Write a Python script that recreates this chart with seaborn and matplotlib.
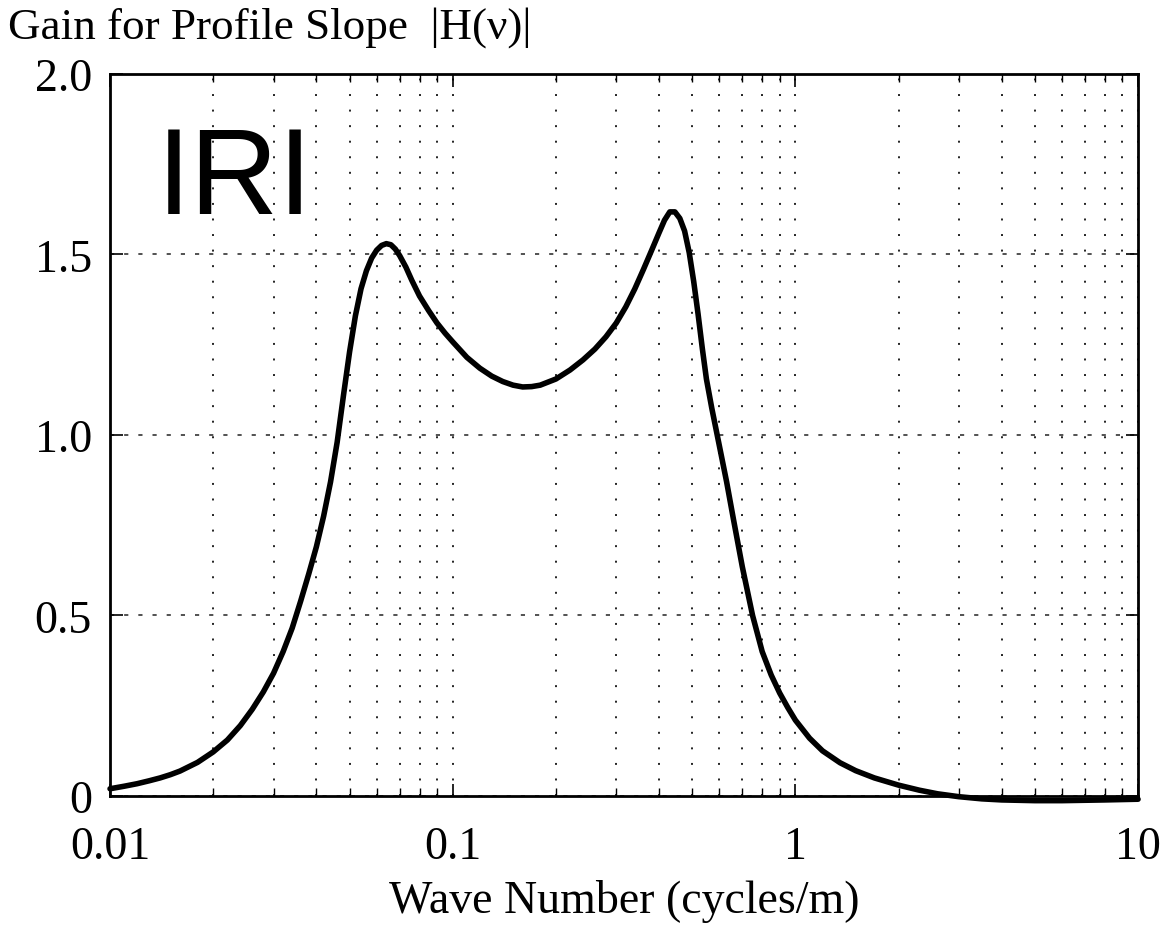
import matplotlib
matplotlib.use("Agg")
import matplotlib.pyplot as plt
from matplotlib.ticker import LogLocator, FixedLocator, NullFormatter
import seaborn as sns
import pandas as pd

# IRI quarter-car gain for profile slope versus wave number
wave_number = [0.010, 0.011, 0.012, 0.013, 0.014, 0.015, 0.016, 0.018, 0.020,
               0.022, 0.024, 0.026, 0.028, 0.030, 0.032, 0.034, 0.036, 0.038,
               0.040, 0.042, 0.044, 0.046, 0.048, 0.050, 0.052, 0.054, 0.056,
               0.058, 0.060, 0.062, 0.064, 0.066, 0.068, 0.070, 0.073, 0.076,
               0.080, 0.085, 0.090, 0.095, 0.100, 0.110, 0.120, 0.130, 0.140,
               0.150, 0.160, 0.170, 0.180, 0.200, 0.220, 0.240, 0.260, 0.280,
               0.300, 0.320, 0.340, 0.360, 0.380, 0.400, 0.415, 0.430, 0.445,
               0.460, 0.475, 0.490, 0.505, 0.520, 0.535, 0.550, 0.570, 0.600,
               0.630, 0.660, 0.700, 0.750, 0.800, 0.850, 0.900, 0.950, 1.000,
               1.100, 1.200, 1.350, 1.500, 1.700, 2.000, 2.300, 2.600, 3.000,
               3.500, 4.000, 5.000, 6.000, 8.000, 10.00]
gain = [0.020, 0.027, 0.034, 0.042, 0.050, 0.059, 0.069, 0.093, 0.122,
        0.155, 0.195, 0.240, 0.288, 0.340, 0.400, 0.465, 0.540, 0.615,
        0.690, 0.775, 0.870, 0.980, 1.110, 1.230, 1.330, 1.405, 1.455,
        1.490, 1.512, 1.525, 1.530, 1.527, 1.515, 1.497, 1.465, 1.428,
        1.385, 1.345, 1.310, 1.282, 1.258, 1.215, 1.185, 1.163, 1.148,
        1.138, 1.133, 1.134, 1.138, 1.155, 1.180, 1.208, 1.238, 1.272,
        1.310, 1.355, 1.405, 1.458, 1.510, 1.560, 1.595, 1.618, 1.618,
        1.600, 1.565, 1.505, 1.425, 1.335, 1.240, 1.155, 1.075, 0.970,
        0.870, 0.765, 0.635, 0.500, 0.400, 0.335, 0.285, 0.245, 0.210,
        0.160, 0.125, 0.092, 0.070, 0.050, 0.030, 0.016, 0.006, -0.002,
        -0.008, -0.011, -0.013, -0.013, -0.011, -0.009]

x_ticks = [0.01, 0.1, 1, 10]
x_tick_labels = ["0.01", "0.1", "1", "10"]
y_ticks = [0, 0.5, 1.0, 1.5, 2.0]
y_tick_labels = ["0", "0.5", "1.0", "1.5", "2.0"]

df = pd.DataFrame({"wave_number": wave_number, "gain": gain})

sns.set_style("ticks")
plt.rcParams["font.family"] = ["Liberation Serif", "DejaVu Serif"]
plt.rcParams["text.color"] = "black"

fig = plt.figure(figsize=(11.67, 9.28), dpi=100)
ax = fig.add_axes([0.0943, 0.1412, 0.8809, 0.7780])

sns.lineplot(data=df, x="wave_number", y="gain", color="black", lw=4.0,
             estimator=None, sort=False, ax=ax, zorder=5, clip_on=False)

ax.set_xscale("log")
ax.set_xlim(0.01, 10)
ax.set_ylim(0, 2.0)

ax.xaxis.set_major_locator(FixedLocator(x_ticks))
ax.set_xticklabels(x_tick_labels)
ax.xaxis.set_minor_locator(LogLocator(base=10, subs=range(2, 10)))
ax.xaxis.set_minor_formatter(NullFormatter())
ax.set_yticks(y_ticks)
ax.set_yticklabels(y_tick_labels)

ax.grid(True, which="both", axis="x", color="#222222", lw=1.4,
        linestyle=(0, (1, 7)))
ax.grid(True, which="major", axis="y", color="#333333", lw=1.2,
        linestyle=(0, (2.5, 6)))

ax.tick_params(axis="both", which="both", direction="in", top=True,
               right=True, colors="black", labelsize=33)
ax.tick_params(axis="x", which="major", length=9, width=1.2, pad=21)
ax.tick_params(axis="y", which="major", length=9, width=1.2, pad=13)
ax.tick_params(axis="x", which="minor", length=6, width=1.0)

for side in ax.spines.values():
    side.set_color("black")
    side.set_linewidth(2.0)

ax.set_xlabel("Wave Number (cycles/m)", fontsize=33, labelpad=8,
              color="black")
ax.set_ylabel("")

fig.text(0.007, 0.970, "Gain for Profile Slope  |H(ν)|", fontsize=32.5,
         ha="left", va="center", color="black")
ax.text(0.045, 0.808, "IRI", transform=ax.transAxes, fontsize=88,
        family="Liberation Sans", color="black", ha="left", va="baseline",
        zorder=6)

fig.savefig("out.png", dpi=100)
